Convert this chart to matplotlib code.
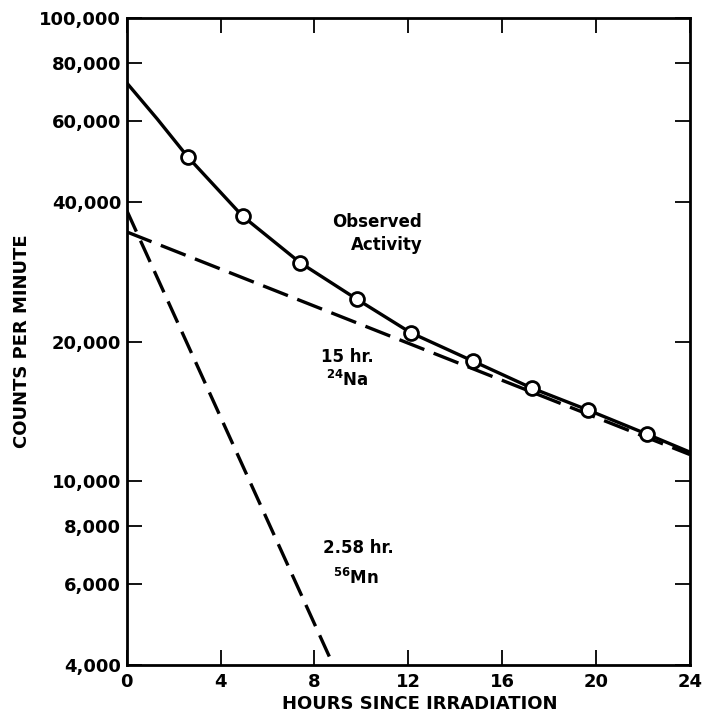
import numpy as np
import matplotlib
matplotlib.use("Agg")
import matplotlib.pyplot as plt
from matplotlib.ticker import FixedLocator, FixedFormatter, NullLocator

plt.rcParams.update({'font.family': 'DejaVu Sans', 'font.weight': 'bold', 'axes.labelweight': 'bold', 'mathtext.default': 'bf'})

# observed activity (circles)
obs_hours = [2.6, 4.94, 7.39, 9.8, 12.1, 14.75, 17.26, 19.65, 22.17]
obs_counts = [50100, 37300, 29600, 24700, 20900, 18150, 15870, 14230, 12620]

# solid curve through the observed points, with its ends at the axes
curve_hours = [0, 1.3, 2.6, 4.94, 7.39, 9.8, 12.1, 14.75, 17.26, 19.65, 22.17, 24]
curve_counts = [72400, 60500, 50100, 37300, 29600, 24700, 20900, 18150, 15870, 14230, 12620, 11540]

# dashed components (end points)
na_hours = [0, 24]
na_counts = [34500, 11400]
mn_hours = [0, 8.8]
mn_counts = [38400, 4000]

y_ticks = [4000, 6000, 8000, 10000, 20000, 40000, 60000, 80000, 100000]
y_labels = ['4,000', '6,000', '8,000', '10,000', '20,000', '40,000', '60,000', '80,000', '100,000']
x_ticks = [0, 4, 8, 12, 16, 20, 24]

fig = plt.figure(figsize=(7.04, 7.16), dpi=100)
ax = fig.add_axes([0.180, 0.071, 0.800, 0.904])

ax.plot(curve_hours, curve_counts, color='black', lw=2.4, solid_capstyle='butt', zorder=3)
ax.plot(obs_hours, obs_counts, 'o', ms=10, mfc='white', mec='black', mew=2, zorder=4)
ax.plot(na_hours, na_counts, color='black', lw=2.4, dashes=(8, 3), zorder=2)
ax.plot(mn_hours, mn_counts, color='black', lw=2.4, dashes=(7, 3), zorder=2)

ax.set_yscale('log')
ax.set_xlim(0, 24)
ax.set_ylim(4000, 100000)
ax.yaxis.set_major_locator(FixedLocator(y_ticks))
ax.yaxis.set_major_formatter(FixedFormatter(y_labels))
ax.yaxis.set_minor_locator(NullLocator())
ax.set_xticks(x_ticks)
ax.set_xticklabels([str(v) for v in x_ticks])

ax.tick_params(direction='in', length=11, width=1.3, top=True, right=True, labelsize=13, pad=4)
ax.tick_params(axis='x', pad=6)
for s in ax.spines.values():
    s.set_linewidth(2)

ax.set_xlabel('HOURS SINCE IRRADIATION', fontsize=13, labelpad=0)
ax.xaxis.set_label_coords(0.52, -0.046)
ax.set_ylabel('COUNTS PER MINUTE', fontsize=13, labelpad=6)

ax.text(10.65, 36200, 'Observed', fontsize=12, ha='center', va='center')
ax.text(11.1, 32300, 'Activity', fontsize=12, ha='center', va='center')
ax.text(8.3, 18500, '15 hr.', fontsize=12, ha='left', va='center')
ax.text(8.5, 16500, r'$^{24}$Na', fontsize=12, ha='left', va='center')
ax.text(8.35, 7150, '2.58 hr.', fontsize=12, ha='left', va='center')
ax.text(8.78, 6160, r'$^{56}$Mn', fontsize=12, ha='left', va='center')

fig.savefig('out.png', dpi=100)
